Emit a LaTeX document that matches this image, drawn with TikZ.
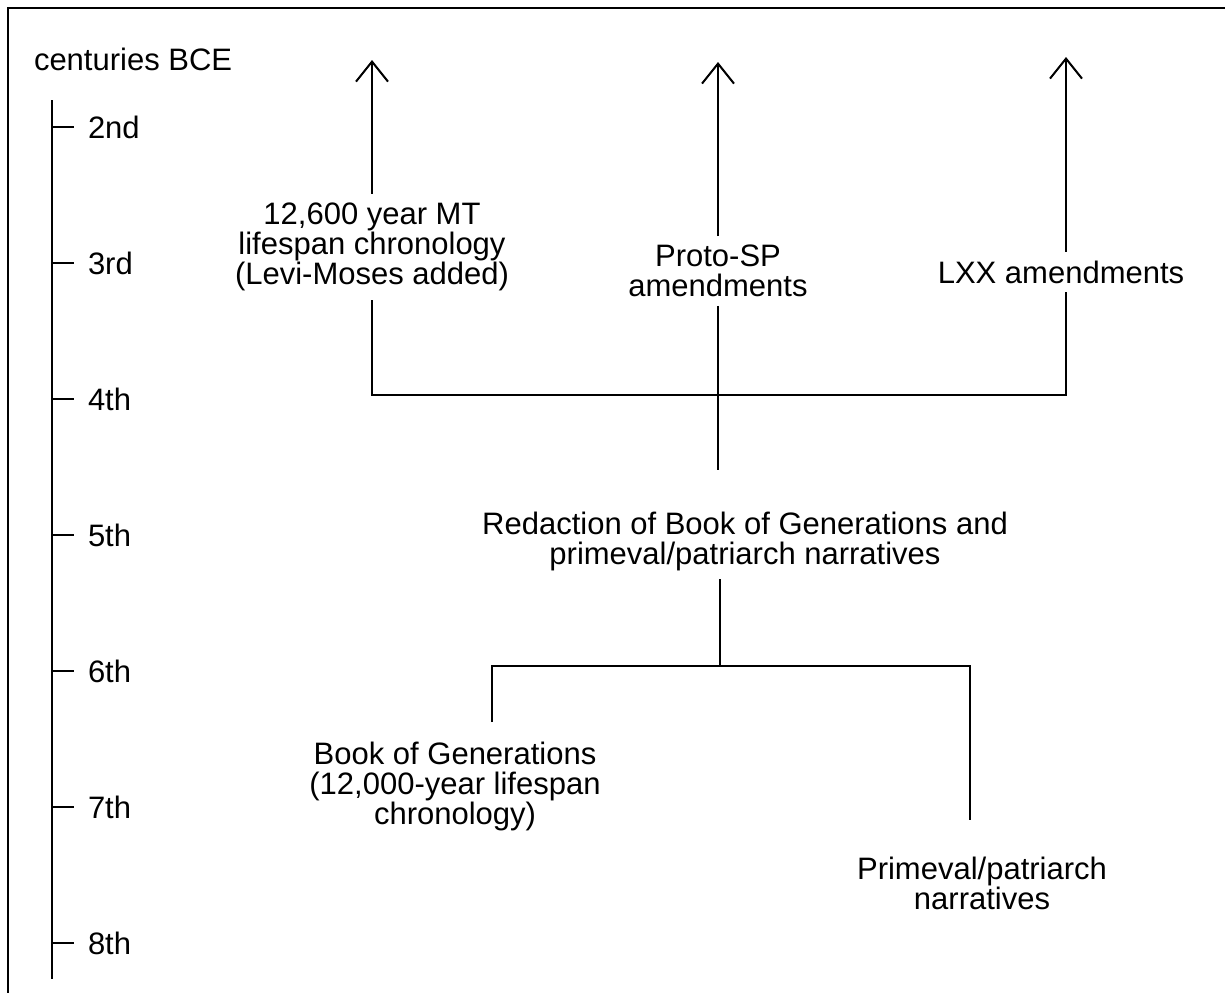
\documentclass[tikz,border=0pt]{standalone}
\usepackage{fontspec}
\setmainfont{Liberation Sans}
\usetikzlibrary{arrows.meta}

\begin{document}
\begin{tikzpicture}[x=0.5pt, y=-0.5pt, line width=1pt,
  txt/.style={align=center, inner sep=4pt, font=\fontsize{15.5}{15}\selectfont},
  up/.style={-{Straight Barb[length=10pt, width=16pt]}}]
\useasboundingbox (0,0) rectangle (1225,992);
\clip (0,0) rectangle (1225,992);
\draw (8,7.5) rectangle (1240,1005);
% time axis
\node[txt, anchor=base west, inner sep=0pt] (bce) at (33,70) {centuries BCE};
\coordinate (axtop) at (52,100);
\coordinate (axbot) at (52,979);
\draw (axtop) -- (axbot);
\foreach \cent [count=\i from 0] in {2nd,3rd,4th,5th,6th,7th,8th} {
  \coordinate (t\i) at (52,127+136*\i);
  \draw (t\i) -- ++(22,0) node[txt, anchor=west, inner sep=0pt, xshift=6.5pt] (c\i) {\cent};
}
% sources and redactions
\node[txt] (mt) at (372,247) {12,600 year MT\\lifespan chronology\\(Levi-Moses added)};
\node[txt] (sp) at (718,271) {Proto-SP\\amendments};
\node[txt] (lxx) at (1061,272) {LXX amendments};
\node[txt] (red) at (745,541) {Redaction of Book of Generations and\\primeval/patriarch narratives};
\node[txt] (bog) at (455,786) {Book of Generations\\(12,000-year lifespan\\chronology)};
\node[txt] (pn) at (982,883) {Primeval/patriarch\\narratives};
\coordinate (mt-tip) at (372,60);
\coordinate (sp-tip) at (718,62);
\coordinate (lxx-tip) at (1066,57);
\coordinate (bar) at (718,395);
\coordinate (sp-end) at (718,470);
\coordinate (split) at (720,666);
\coordinate (bog-end) at (492,722);
\coordinate (pn-end) at (970,820);
\draw[up] (mt.north) -- (mt-tip);
\draw[up] (sp.north) -- (sp-tip);
\draw[up] (lxx-tip |- lxx.north) -- (lxx-tip);
\draw (mt.south) |- (bar) -| (lxx-tip |- lxx.south);
\draw (sp.south) -- (sp-end);
\draw (split |- red.south) -- (split);
\draw (bog-end) |- (split) -| (pn-end);
\end{tikzpicture}
\end{document}
